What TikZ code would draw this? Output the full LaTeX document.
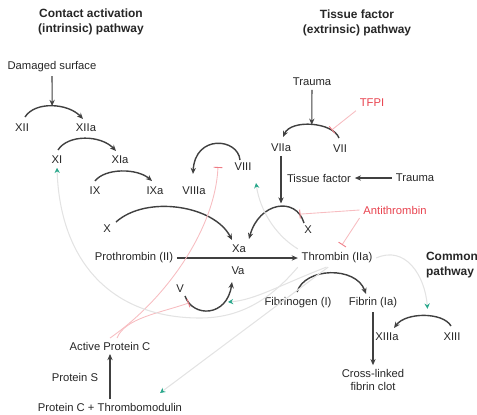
\documentclass[tikz,border=0pt]{standalone}
\usepackage{fontspec}
\setmainfont{Liberation Sans}
\usetikzlibrary{arrows.meta}
\definecolor{InhRed}{HTML}{E8434F}
\definecolor{FbTeal}{HTML}{2BA88C}

\begin{document}
\begin{tikzpicture}[x=0.02cm, y=-0.02cm, >=Stealth,
    fac/.style={inner sep=2pt, text=black!85, font=\fontsize{6.4}{7.8}\selectfont},
    head/.style={inner sep=1pt, text=black!85, font=\fontsize{6.8}{8.4}\selectfont\bfseries, align=center},
    conv/.style={draw=black!75, line width=0.8pt, -{Stealth[length=3.5pt, width=3pt]}},
    act/.style={draw=black!75, line width=0.6pt, -{Stealth[length=3.5pt, width=3pt]}},
    inh/.style={draw=InhRed!35, line width=0.5pt, -{Bar[width=5pt, InhRed!70]}},
    fb/.style={draw=gray!22, line width=0.6pt, -{Stealth[length=3pt, width=3pt, FbTeal]}}]
  \useasboundingbox (0,0) rectangle (477,414);
  % Headings
  \node[head] (hIntr) at (91,22) {Contact activation\\(intrinsic) pathway};
  \node[head] (hExtr) at (357,23) {Tissue factor\\(extrinsic) pathway};
  \node[head, anchor=west, align=left] (hComm) at (424,265) {Common\\pathway};
  % Factors
  \node[fac] (damaged) at (52,67) {Damaged surface};
  \node[fac] (XII) at (22,128) {XII};
  \node[fac] (XIIa) at (86,128) {XIIa};
  \node[fac] (XI) at (57,160) {XI};
  \node[fac] (XIa) at (120,160) {XIa};
  \node[fac] (IX) at (95,191) {IX};
  \node[fac] (IXa) at (155,191) {IXa};
  \node[fac] (VIIIa) at (194,191) {VIIIa};
  \node[fac] (VIII) at (243,167) {VIII};
  \node[fac] (trauma1) at (312,82) {Trauma};
  \node[fac, text=InhRed] (TFPI) at (372,103) {TFPI};
  \node[fac] (VIIa) at (281,148) {VIIa};
  \node[fac] (VII) at (340,149) {VII};
  \node[fac] (tissue) at (319,178) {Tissue factor};
  \node[fac] (trauma2) at (415,178) {Trauma};
  \node[fac, text=InhRed] (antithr) at (395,210) {Antithrombin};
  \node[fac] (Xl) at (107,229) {X};
  \node[fac] (Xr) at (308,230) {X};
  \node[fac] (Xa) at (239,249) {Xa};
  \node[fac] (prothr) at (134,258) {Prothrombin (II)};
  \node[fac] (thr) at (337,258) {Thrombin (IIa)};
  \node[fac] (Va) at (238,271) {Va};
  \node[fac] (V) at (180,289) {V};
  \node[fac] (fibg) at (298,303) {Fibrinogen (I)};
  \node[fac] (fibn) at (373,303) {Fibrin (Ia)};
  \node[fac] (XIIIa) at (387,337) {XIIIa};
  \node[fac] (XIII) at (452,337) {XIII};
  \node[fac, align=center] (clot) at (373,380) {Cross-linked\\fibrin clot};
  \node[fac] (apc) at (110,346) {Active Protein C};
  \node[fac] (protS) at (75,377) {Protein S};
  \node[fac] (pcTm) at (110,407) {Protein C + Thrombomodulin};
  % Conversions
  \draw[conv] ([shift={(3,-11)}]XII.center) .. controls +(10,-16) and +(-15,-16) .. ([shift={(-3,-9)}]XIIa.center)
    coordinate[pos=0.5] (xiiTop);
  \draw[conv] ([shift={(1,-10)}]XI.center) .. controls +(10,-16) and +(-15,-16) .. ([shift={(-4,-9)}]XIa.center);
  \draw[conv] ([shift={(0,-10)}]IX.center) .. controls +(10,-13) and +(-15,-13) .. ([shift={(-3,-10)}]IXa.center);
  \draw[conv] ([shift={(9,-7)}]Xl.center) .. controls +(30,-27) and +(-18,-35) .. ([shift={(-7,-9)}]Xa.center);
  \draw[conv] ([shift={(-4,-7)}]Xr.center) .. controls +(-8,-27) and +(10,-37) .. ([shift={(10,-10)}]Xa.center)
    coordinate[pos=0.5] (xrTop) coordinate[pos=0.13] (xrInh);
  \draw[conv] ([shift={(-3,-7)}]VIII.center) .. controls +(-2,-22) and +(2,-40) .. ([shift={(-1,-17)}]VIIIa.center);
  \draw[conv] ([shift={(-1,-11)}]VII.center) .. controls +(-6,-16) and +(8,-18) .. ([shift={(2,-11)}]VIIa.center)
    coordinate[pos=0.5] (viiTop) coordinate[pos=0.2] (viiInh);
  \draw[conv] ([shift={(5,7)}]V.center) .. controls +(8,22) and +(-5,35) .. ([shift={(-6,11)}]Va.center)
    coordinate[pos=0.12] (vInh) coordinate[pos=0.8] (vFb);
  \draw[conv] ([shift={(-1,-11)}]fibg.center) .. controls +(8,-25) and +(-10,-28) .. ([shift={(-7,-9)}]fibn.center);
  \draw[conv] ([shift={(-1,-11)}]XIII.center) .. controls +(-8,-14) and +(12,-16) .. ([shift={(7,-9)}]XIIIa.center)
    coordinate[pos=0.45] (xiiiTop);
  % Activation arrows
  \draw[act] (damaged.south) -- (xiiTop);
  \draw[act] (trauma1.south) -- (viiTop);
  \draw[act] (VIIa.south) -- ([yshift=2pt]VIIa.south |- xrTop);
  \draw[act] (trauma2.west) -- (tissue.east);
  \draw[act] (prothr.east) -- (thr.west);
  \draw[act] (fibn.south) -- (clot.north);
  \draw[act] (pcTm.north) -- (apc.south);
  % Inhibitors
  \coordinate (viiiInh) at (218,167);
  \draw[inh] (TFPI.south west) -- (viiInh);
  \draw[inh] (antithr.west) -- (xrInh);
  \draw[inh] (antithr.south west) -- ([shift={(5,-4)}]thr.north);
  \draw[inh] (apc.north) .. controls (165,300) and (215,230) .. (viiiInh);
  \draw[inh] ([xshift=4pt]apc.north) .. controls (125,318) and (160,313) .. (vInh);
  % Thrombin feedback
  \draw[fb] (thr.south west) .. controls (270,300) and (240,318) .. (200,318)
    .. controls (110,318) and (60,260) .. (XI.south);
  \draw[fb] (thr.north west) .. controls (275,235) and (260,210) .. ([shift={(13,16)}]VIII.center);
  \draw[fb] ([xshift=-6pt]thr.south) .. controls (280,285) and (255,300) .. ([shift={(2,3)}]vFb);
  \draw[fb] ([xshift=-5pt]thr.south) -- ([shift={(50,-14)}]pcTm.center);
  \draw[fb] (thr.east) .. controls (405,245) and (425,275) .. ([yshift=4pt]xiiiTop);
\end{tikzpicture}
\end{document}
